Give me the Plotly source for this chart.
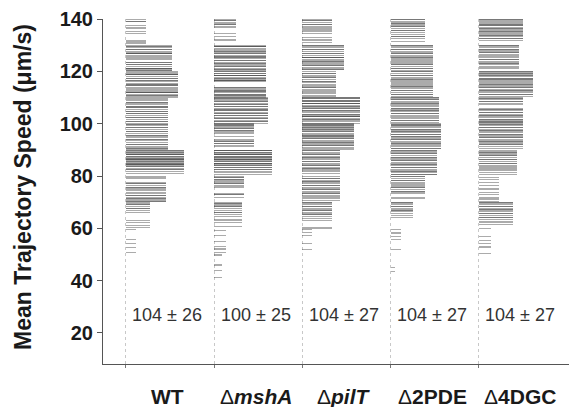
import math
from collections import Counter
import plotly.graph_objects as go

categories = ["<b>WT</b>", "Δ<b><i>mshA</i></b>", "Δ<b><i>pilT</i></b>", "Δ<b>2PDE</b>", "Δ<b>4DGC</b>"]
stats = ["104 ± 26", "100 ± 25", "104 ± 27", "104 ± 27", "104 ± 27"]
y_ticks = [20, 40, 60, 80, 100, 120, 140]

# mean trajectory speeds (µm/s), one value per trajectory
wt = [139.8, 139.1, 138.9, 137.6, 136.7, 136.5, 135.2, 134.6, 131.6, 130.8,
      129.7, 129.6, 129.0, 128.4, 128.3, 127.5, 127.0, 126.9, 126.8, 126.0, 125.8, 124.7, 123.4,
      123.3, 122.6, 122.5, 121.8, 121.2, 121.1, 120.9, 120.4, 120.2, 125.2,
      119.8, 119.6, 119.0, 118.9, 118.8, 118.0, 117.4, 117.3, 116.5, 116.4, 116.0, 115.3, 114.9,
      114.8, 114.7, 113.9, 113.3, 113.2, 112.8, 112.1, 112.0, 111.9, 111.2, 110.7, 110.6, 110.1,
      109.7, 109.1, 108.9, 108.0, 107.9, 107.2, 106.5, 106.4, 106.3, 105.4, 104.8, 104.7, 103.9,
      103.8, 103.0, 102.4, 102.3, 101.5, 100.9, 100.8, 100.2,
      99.7, 99.5, 98.6, 98.5, 97.7, 97.0, 96.9, 96.1, 95.4, 95.3, 94.6, 93.9, 93.8, 93.7, 92.8,
      92.0, 91.9, 91.3, 90.7, 90.6, 90.1,
      89.9, 89.6, 89.5, 88.9, 88.8, 88.3, 88.2, 88.1, 87.5, 87.4, 86.9, 86.8, 86.4, 86.3, 86.2,
      85.7, 85.6, 85.0, 84.9, 84.4, 84.3, 84.2, 83.6, 83.5, 82.9, 82.5, 82.4, 81.6, 80.8,
      79.7, 79.4, 78.9, 77.3, 77.2, 76.5, 75.5, 75.4, 74.7, 74.6, 73.8, 73.2, 72.5, 72.4, 71.8,
      71.3, 71.2, 70.7, 70.3, 70.2,
      69.8, 69.3, 69.2, 68.3, 67.6, 67.5, 66.8, 66.0, 62.9, 62.1, 61.0, 60.3,
      59.6, 55.8, 54.3, 52.8, 50.8]

msha = [139.9, 139.4, 139.3, 138.5, 138.0, 137.9, 137.2, 136.6, 134.5, 133.2, 132.0,
        129.7, 129.6, 129.5, 128.7, 128.2, 128.1, 127.5, 127.4, 126.9, 126.8, 126.1, 125.6, 125.5,
        125.4, 124.8, 124.2, 124.1, 123.5, 123.1, 123.0, 122.4, 121.8, 121.7, 121.1, 120.6, 120.5,
        119.9, 119.8, 119.2, 119.1, 118.5, 118.4, 118.3, 117.7, 117.2, 117.1, 116.6, 116.5, 116.3,
        113.9, 113.8, 113.3, 113.2, 112.6, 112.5, 112.4, 111.8, 111.3, 111.2, 110.7, 110.6, 110.1,
        109.8, 109.7, 109.1, 108.7, 108.6, 108.5, 107.8, 107.4, 107.3, 106.6, 106.5, 105.9, 105.3,
        105.2, 105.1, 104.4, 103.9, 103.8, 103.2, 103.1, 102.5, 102.0, 101.9, 101.3, 100.8, 100.7, 100.2,
        99.9, 99.8, 99.2, 99.1, 98.6, 98.1, 98.0, 97.4, 97.3, 96.8, 96.4, 95.0, 93.8, 93.7, 93.2,
        93.1, 92.5, 92.4, 91.8, 91.3,
        89.9, 89.7, 89.6, 89.0, 88.9, 88.4, 88.3, 88.2, 87.6, 87.5, 87.0, 86.9, 86.3, 86.2, 86.1,
        85.5, 85.4, 84.8, 84.7, 84.6, 84.0, 83.9, 83.3, 83.2, 82.6, 82.5, 81.8, 81.2, 80.5,
        79.8, 79.4, 79.3, 78.6, 78.5, 77.9, 77.3, 77.2, 76.5, 76.0, 75.5, 73.4, 72.9, 72.8, 71.9,
        69.7, 69.6, 68.9, 68.4, 68.3, 67.6, 66.9, 66.2, 66.1, 65.2, 64.6, 63.2, 62.3, 60.8,
        59.1, 57.4, 54.9, 53.0, 52.1, 50.8,
        49.8, 46.0, 43.8, 41.3]

pilt = [139.9, 139.4, 139.3, 138.6, 138.0, 137.9, 137.2, 136.6, 136.5, 135.8, 135.1, 134.6, 132.8,
        132.0, 131.1,
        129.8, 129.7, 129.0, 128.4, 128.3, 127.5, 126.9, 126.8, 126.0, 125.4, 125.3, 125.2, 124.3,
        123.7, 123.6, 122.8, 122.2, 122.1, 121.3, 120.7, 120.6,
        119.8, 119.2, 119.1, 118.2, 117.6, 117.5, 116.8, 116.0, 115.9, 115.1, 114.4, 113.9, 113.8,
        112.9, 112.1, 111.4, 110.6,
        109.9, 109.8, 109.7, 109.0, 108.9, 108.5, 108.4, 107.8, 107.7, 107.6, 106.9, 106.5, 106.4,
        105.8, 105.7, 105.0, 104.9, 104.8, 104.2, 103.6, 103.5, 102.9, 102.8, 102.7, 102.0, 101.5,
        101.4, 100.8, 100.2,
        99.9, 99.8, 99.2, 99.1, 98.5, 98.4, 98.3, 97.7, 97.6, 97.0, 96.9, 96.4, 95.7, 95.6, 95.0,
        94.9, 94.3, 94.2, 93.6, 93.0, 92.9, 92.2, 91.7, 91.6, 90.9, 90.3,
        89.8, 89.7, 89.0, 88.4, 88.3, 87.6, 87.0, 86.9, 86.2, 85.6, 85.5, 84.8, 84.2, 84.1, 83.4,
        82.8, 82.7, 81.9, 81.1,
        79.8, 79.2, 79.1, 78.4, 77.8, 77.7, 77.0, 76.4, 76.3, 75.6, 75.0, 74.9, 74.2, 73.5, 73.4,
        72.7, 72.0, 71.3, 70.5,
        69.8, 69.7, 69.0, 68.4, 68.3, 67.6, 67.0, 66.9, 66.2, 65.5, 65.4, 64.6, 63.8, 63.0, 60.1,
        59.4, 58.5, 57.2, 54.3, 52.0]

pde2 = [139.9, 139.8, 139.1, 138.5, 138.4, 137.7, 137.1, 137.0, 136.3, 135.6, 135.5, 134.8, 134.1,
        133.4, 133.3, 132.4, 131.5,
        129.8, 129.7, 129.0, 128.4, 128.3, 127.6, 127.0, 126.9, 126.1, 125.5, 125.4, 124.7, 124.0,
        123.9, 123.2, 122.6, 122.5, 121.8, 121.1, 121.0, 120.3,
        119.9, 119.8, 119.1, 118.5, 118.4, 117.7, 117.1, 117.0, 116.3, 115.6, 115.5, 114.8, 114.1,
        114.0, 113.3, 112.7, 112.6, 111.9, 111.2, 111.1, 110.4,
        109.9, 109.8, 109.2, 109.1, 108.5, 107.9, 107.8, 107.2, 107.1, 106.5, 105.9, 105.8, 105.2,
        105.1, 104.5, 103.9, 103.8, 103.2, 102.6, 102.5, 101.9, 101.3, 101.2, 100.5,
        99.9, 99.8, 99.2, 99.1, 98.5, 97.9, 97.8, 97.2, 97.1, 96.5, 95.9, 95.8, 95.2, 95.1, 94.5,
        93.9, 93.8, 93.2, 92.6, 92.5, 91.9, 91.8, 91.2, 90.6, 90.5,
        89.9, 89.8, 89.2, 88.6, 88.5, 87.9, 87.2, 87.1, 86.5, 85.9, 85.8, 85.2, 84.6, 84.5, 83.9,
        83.2, 83.1, 82.5, 81.9, 81.8, 81.2, 80.6, 80.5,
        79.8, 79.7, 79.0, 78.4, 78.3, 77.6, 77.0, 76.9, 76.2, 75.6, 75.5, 74.8, 74.2, 74.1, 73.5,
        71.8, 71.4,
        69.8, 69.7, 69.0, 68.3, 68.2, 67.4, 66.7, 66.6, 65.8, 65.0, 64.2,
        59.5, 58.2, 57.0, 55.6, 52.0,
        45.0, 43.5]

dgc4 = [139.9, 139.8, 139.3, 139.2, 138.6, 138.1, 138.0, 137.5, 137.4, 136.8, 136.3, 136.2, 135.7,
        135.1, 135.0, 134.5, 133.9, 133.8, 133.2, 132.6, 132.5, 131.8,
        129.8, 129.7, 129.1, 128.5, 128.4, 127.8, 127.2, 127.1, 126.5, 125.9, 125.8, 125.2, 124.6,
        124.5, 123.9, 123.2, 123.1, 122.5, 121.9, 121.3,
        119.9, 119.8, 119.7, 119.2, 119.1, 118.6, 118.5, 117.9, 117.4, 117.3, 116.8, 116.7, 116.2,
        115.6, 115.5, 115.0, 114.9, 114.4, 113.8, 113.7, 113.2, 112.6, 112.5, 111.9, 111.3, 111.2, 110.5,
        109.8, 109.7, 109.1, 108.5, 108.4, 107.8, 107.3, 105.6, 105.5, 104.9, 104.3, 104.2, 103.6,
        103.0, 102.9, 102.3, 101.7, 101.6, 101.0, 100.9, 100.4, 100.3,
        99.9, 99.8, 99.2, 98.6, 98.5, 97.9, 97.3, 97.2, 96.6, 96.0, 95.9, 95.3, 94.7, 94.6, 94.0,
        93.4, 93.3, 92.6, 92.0, 91.9, 91.2, 90.5,
        89.8, 89.2, 89.1, 88.4, 87.8, 87.7, 87.0, 86.3, 86.2, 85.5, 84.9, 84.8, 84.1, 83.5, 83.4,
        82.7, 82.0, 81.3, 80.6,
        79.5, 78.8, 77.6, 76.3, 75.0, 73.8, 72.8, 71.9, 71.2, 70.4,
        69.8, 69.7, 69.1, 68.5, 68.4, 67.7, 67.1, 67.0, 66.3, 65.7, 65.6, 64.9, 64.2, 64.1, 63.3,
        62.4, 61.4,
        59.8, 57.0, 55.2, 54.2, 52.9, 50.4]

speeds = [wt, msha, pilt, pde2, dgc4]

BIN_WIDTH = 10               # histogram bin (µm/s) that sets the line length
LEN_PER_TRAJ = 2.0 / 88.26   # x-units per trajectory in a bin
FONT = "Liberation Sans, Arial, sans-serif"

fig = go.Figure()
for i, vals in enumerate(speeds):
    counts = Counter(math.floor(v / BIN_WIDTH) for v in vals)
    lengths = [counts[math.floor(v / BIN_WIDTH)] * LEN_PER_TRAJ for v in vals]
    fig.add_trace(go.Bar(
        orientation="h", y=vals, x=lengths, base=[i] * len(vals), width=0.45,
        marker=dict(color="rgba(45,45,45,0.40)", line=dict(width=0)),
        cliponaxis=False, showlegend=False, hoverinfo="skip",
    ))

annotations = []
for i, (cat, st) in enumerate(zip(categories, stats)):
    annotations.append(dict(x=i + 0.47, y=27, xref="x", yref="y", text=st, showarrow=False,
                            font=dict(family=FONT, size=18, color="#333333"),
                            xanchor="center", yanchor="middle"))
    annotations.append(dict(x=i + 0.47, y=0, xref="x", yref="paper", text=cat, showarrow=False,
                            font=dict(family=FONT, size=21, color="#1a1a1a"),
                            xanchor="center", yanchor="middle", yshift=-32))
annotations.append(dict(x=-0.1717, y=0.513, xref="paper", yref="paper",
                        text="<b>Mean Trajectory Speed (μm/s)</b>", textangle=-90, showarrow=False,
                        font=dict(family=FONT, size=23, color="#1a1a1a"),
                        xanchor="center", yanchor="middle"))

fig.update_layout(
    width=569, height=407,
    margin=dict(l=103, r=0, t=19, b=43),
    paper_bgcolor="white", plot_bgcolor="white",
    barmode="overlay", bargap=0,
    annotations=annotations,
    xaxis=dict(range=[-0.26, 5.02], tickvals=[0, 1, 2, 3, 4], showticklabels=False,
               ticks="outside", ticklen=3, tickcolor="#777777",
               showline=True, linecolor="#555555", linewidth=1,
               showgrid=True, gridcolor="#c8c8c8", griddash="dot", gridwidth=1,
               zeroline=False, fixedrange=True),
    yaxis=dict(range=[8.15, 140], tickvals=y_ticks, ticks="outside", ticklen=5,
               tickcolor="#555555", showline=True, linecolor="#555555", linewidth=1,
               tickfont=dict(family=FONT, size=20, color="#1a1a1a", weight="bold"),
               showgrid=False, zeroline=False, fixedrange=True),
)

fig.write_html(
    "out.html",
    config={"displayModeBar": False},
    post_script="document.body.style.margin='0';document.body.style.overflow='hidden';",
)
